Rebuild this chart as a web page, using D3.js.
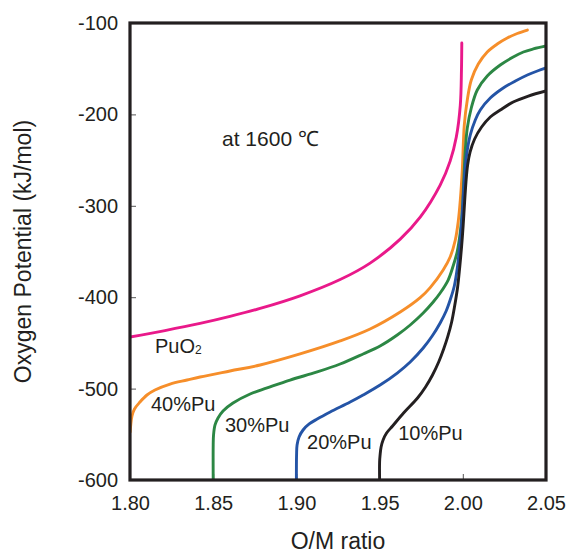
<!DOCTYPE html>
<html>
<head>
<meta charset="utf-8">
<script src="https://cdn.jsdelivr.net/npm/d3@7"></script>
<style>
  body { margin: 0; background: #fff; }
  svg text { font-family: "Liberation Sans", Arial, Helvetica, sans-serif; fill: #231f20; }
</style>
</head>
<body>
<div id="chart"></div>
<script>
// tick values
var xTicks = [1.80, 1.85, 1.90, 1.95, 2.00, 2.05];
var yTicks = [-100, -200, -300, -400, -500, -600];

// PuO2
var puo2OM  = [1.8000, 1.8210, 1.8421, 1.8601, 1.8782, 1.9022, 1.9263, 1.9443, 1.9624, 1.9744, 1.9864, 1.9924, 1.9961, 1.9985, 1.9992, 1.9994];
var puo2Pot = [-443.5, -436.5, -428.7, -421.0, -412.3, -398.5, -380.7, -362.7, -336.4, -312.4, -277.3, -251.1, -224.8, -189.8, -151.4, -121.9];

// 40%Pu
var pu40OM  = [1.8001, 1.8005, 1.8012, 1.8027, 1.8060, 1.8102, 1.8150, 1.8241, 1.8343, 1.8421, 1.8601, 1.8782, 1.9022, 1.9263, 1.9443, 1.9624, 1.9744, 1.9804, 1.9882, 1.9924, 1.9955, 1.9973, 1.9985, 1.9997, 2.0009, 2.0027, 2.0051, 2.0093, 2.0147, 2.0207, 2.0267, 2.0327, 2.0388];
var pu40Pot = [-547.5, -538.7, -529.9, -522.3, -514.7, -507.0, -501.5, -495.0, -490.6, -487.3, -480.7, -474.2, -462.1, -447.9, -434.8, -416.2, -400.5, -389.5, -370.2, -356.0, -337.4, -316.6, -293.7, -260.8, -211.6, -184.2, -162.4, -144.9, -131.7, -123.0, -116.4, -111.5, -107.7];

// 30%Pu
var pu30OM  = [1.8500, 1.8500, 1.8502, 1.8511, 1.8529, 1.8559, 1.8619, 1.8722, 1.8824, 1.8962, 1.9125, 1.9263, 1.9401, 1.9503, 1.9606, 1.9684, 1.9762, 1.9822, 1.9864, 1.9912, 1.9942, 1.9966, 1.9985, 1.9997, 2.0006, 2.0015, 2.0027, 2.0051, 2.0087, 2.0147, 2.0225, 2.0303, 2.0364, 2.0424, 2.0500];
var pu30Pot = [-600, -561.7, -550.8, -539.8, -532.2, -524.5, -515.8, -505.9, -499.3, -490.6, -481.8, -473.1, -462.1, -453.4, -441.4, -430.4, -417.3, -405.3, -395.4, -381.2, -365.9, -350.5, -328.7, -304.6, -271.8, -238.9, -214.9, -193.0, -173.3, -158.0, -146.0, -137.2, -131.7, -128.4, -125.2];

// 20%Pu
var pu20OM  = [1.9000, 1.9001, 1.9004, 1.9016, 1.9040, 1.9077, 1.9125, 1.9203, 1.9323, 1.9401, 1.9503, 1.9606, 1.9684, 1.9762, 1.9816, 1.9864, 1.9900, 1.9924, 1.9949, 1.9967, 1.9979, 1.9991, 2.0000, 2.0009, 2.0021, 2.0045, 2.0075, 2.0105, 2.0165, 2.0243, 2.0316, 2.0388, 2.0448, 2.0500];
var pu20Pot = [-600, -572.6, -561.7, -553.0, -545.3, -538.7, -533.3, -525.6, -514.7, -507.0, -496.1, -483.0, -470.9, -455.6, -442.5, -428.2, -415.1, -403.1, -387.7, -368.1, -348.4, -324.3, -299.1, -271.8, -246.6, -222.5, -206.1, -195.2, -182.1, -171.1, -163.5, -156.9, -152.5, -149.2];

// 10%Pu
var pu10OM  = [1.9500, 1.9500, 1.9503, 1.9509, 1.9521, 1.9542, 1.9578, 1.9644, 1.9728, 1.9776, 1.9818, 1.9855, 1.9885, 1.9909, 1.9933, 1.9951, 1.9969, 1.9981, 1.9993, 2.0002, 2.0011, 2.0019, 2.0029, 2.0044, 2.0071, 2.0113, 2.0165, 2.0225, 2.0303, 2.0394, 2.0500];
var pu10Pot = [-600, -580.3, -572.6, -563.9, -556.2, -548.6, -540.9, -526.7, -510.3, -498.2, -485.1, -470.9, -456.7, -443.5, -427.1, -409.6, -388.8, -368.1, -344.0, -322.1, -295.8, -274.0, -255.4, -241.1, -226.9, -213.8, -202.8, -195.2, -186.4, -179.9, -174.4];

var series = [
  { name: "PuO2",  om: puo2OM, pot: puo2Pot, color: "#e9198a" },
  { name: "40%Pu", om: pu40OM, pot: pu40Pot, color: "#f68e2a" },
  { name: "30%Pu", om: pu30OM, pot: pu30Pot, color: "#2c8744" },
  { name: "20%Pu", om: pu20OM, pot: pu20Pot, color: "#2454a6" },
  { name: "10%Pu", om: pu10OM, pot: pu10Pot, color: "#231f20" }
];

// set the dimensions and margins of the graph
var margin = {top: 23, right: 22, bottom: 74, left: 130},
    width = 568 - margin.left - margin.right,
    height = 554 - margin.top - margin.bottom;

var x = d3.scaleLinear().domain([1.80, 2.05]).range([0, width]);
var y = d3.scaleLinear().domain([-600, -100]).range([height, 0]);

var svg = d3.select("#chart").append("svg")
    .attr("width", 568)
    .attr("height", 554)
  .append("g")
    .attr("transform", "translate(" + margin.left + "," + margin.top + ")");

svg.append("clipPath").attr("id", "plot-clip")
  .append("rect").attr("width", width).attr("height", height);

// axes with inward ticks
var yAxis = svg.append("g")
    .call(d3.axisLeft(y).tickValues(yTicks).tickSize(-6).tickPadding(12)
      .tickFormat(function(d) { return String(d); }));
var xAxis = svg.append("g")
    .attr("transform", "translate(0," + height + ")")
    .call(d3.axisBottom(x).tickValues(xTicks).tickSize(-6).tickPadding(16)
      .tickFormat(d3.format(".2f")));

[xAxis, yAxis].forEach(function(a) {
  a.select(".domain").remove();
  a.selectAll(".tick line").attr("stroke", "#555").attr("stroke-width", 1);
  a.selectAll(".tick text").style("font-size", "20px").attr("fill", "#231f20");
});

// curves
var line = d3.line()
    .x(function(d) { return x(d[0]); })
    .y(function(d) { return y(d[1]); })
    .curve(d3.curveCatmullRom.alpha(0.5));

var curves = svg.append("g").attr("clip-path", "url(#plot-clip)");
series.forEach(function(s) {
  curves.append("path")
      .datum(d3.zip(s.om, s.pot))
      .attr("fill", "none")
      .attr("stroke", s.color)
      .attr("stroke-width", 2.9)
      .attr("stroke-linecap", "round")
      .attr("stroke-linejoin", "round")
      .attr("d", line);
});

// frame
svg.append("rect")
    .attr("width", width)
    .attr("height", height)
    .attr("fill", "none")
    .attr("stroke", "#231f20")
    .attr("stroke-width", 3.2);

// curve labels
var pu = svg.append("text")
    .attr("x", x(1.815)).attr("y", y(-461))
    .style("font-size", "20px");
pu.append("tspan").text("PuO");
pu.append("tspan").text("2").style("font-size", "12px").attr("dy", 1);

var labels = [
  { text: "40%Pu", om: 1.8126, pot: -525 },
  { text: "30%Pu", om: 1.8571, pot: -547 },
  { text: "20%Pu", om: 1.9064, pot: -566 },
  { text: "10%Pu", om: 1.9612, pot: -556 }
];
svg.selectAll(".clabel").data(labels).enter().append("text")
    .attr("class", "clabel")
    .attr("x", function(d) { return x(d.om); })
    .attr("y", function(d) { return y(d.pot); })
    .style("font-size", "20px")
    .text(function(d) { return d.text; });

svg.append("text")
    .attr("x", x(1.8553)).attr("y", y(-235))
    .style("font-size", "21px")
    .text("at 1600 ℃");

// axis titles
svg.append("text")
    .attr("x", width / 2)
    .attr("y", height + 69)
    .attr("text-anchor", "middle")
    .style("font-size", "23px")
    .text("O/M ratio");

svg.append("text")
    .attr("transform", "translate(" + (31 - margin.left) + "," + (height / 2) + ") rotate(-90)")
    .attr("text-anchor", "middle")
    .style("font-size", "23px")
    .text("Oxygen Potential (kJ/mol)");
</script>
</body>
</html>
